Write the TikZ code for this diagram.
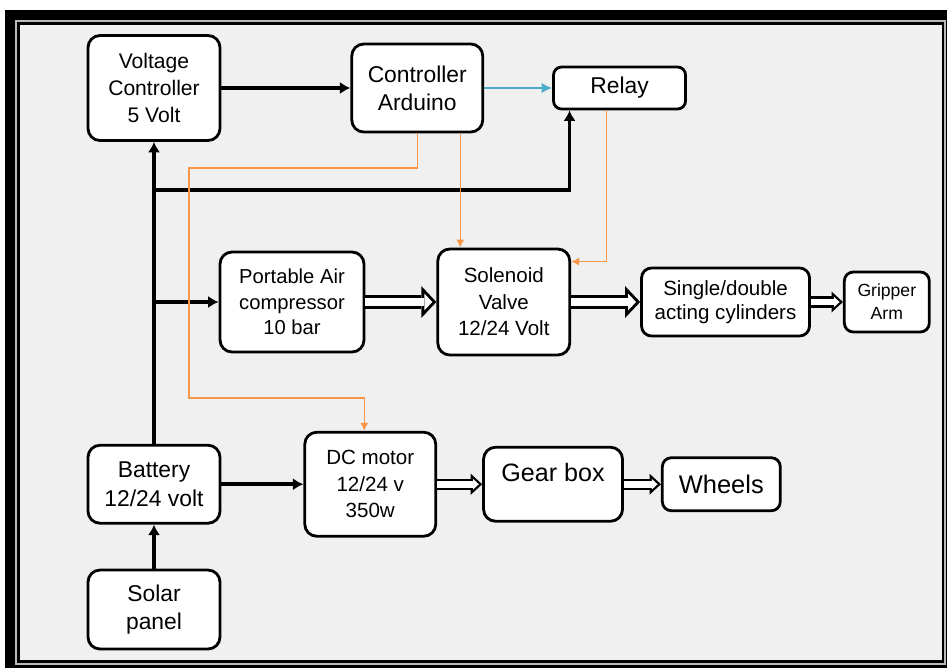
\documentclass[tikz,border=0pt]{standalone}
\usepackage{fontspec}
\setmainfont{Liberation Sans}
\usepackage{tikz}
\usetikzlibrary{positioning,arrows.meta}
\definecolor{bggray}{HTML}{F0F0F0}
\definecolor{ctlorange}{HTML}{F79646}
\definecolor{sigblue}{HTML}{4BACC6}

\begin{document}
\begin{tikzpicture}[x=0.02cm, y=-0.02cm,
	blk/.style={draw, line width=1.6pt, fill=white, rounded corners=0.24cm, align=center, inner sep=0pt, font=\fontsize{12}{15.5}\selectfont},
	pw/.style={line width=2pt, -{Latex[length=6pt,width=7pt]}},
	sig/.style={draw=sigblue, line width=1.6pt, -{Latex[length=6pt,width=6pt]}},
	ctl/.style={draw=ctlorange, line width=0.8pt, -{Latex[length=4.5pt,width=4.5pt]}},
	hollow/.style={line width=8.5pt, -{Triangle[length=8.5pt,width=18pt,line width=0pt]},
		postaction={draw=white, line width=5.1pt, shorten >=2.34pt, -{Triangle[length=4.46pt,width=9.45pt,line width=0pt]}}},
	hollowsm/.style={line width=6.5pt, -{Triangle[length=6.5pt,width=12pt,line width=0pt]},
		postaction={draw=white, line width=3.9pt, shorten >=1.92pt, -{Triangle[length=3.28pt,width=6.06pt,line width=0pt]}}}]

	% frame
	\useasboundingbox (0,0) rectangle (947,670);
	\fill[black] (5,10) rectangle (947,668);
	\fill[gray!55] (15,20) rectangle (946,665);
	\fill[black] (17,22) rectangle (944,663);
	\fill[bggray] (20,25) rectangle (942,660);

	% blocks
	\node[blk, minimum width=2.64cm, minimum height=2.1cm] (vc) at (154,88) {Voltage\\Controller\\5 Volt};
	\node[blk, minimum width=2.62cm, minimum height=1.76cm, font=\fontsize{13}{16}\selectfont, right=2.58cm of vc] (ard) {Controller\\Arduino};
	\node[blk, rounded corners=0.16cm, minimum width=2.64cm, minimum height=0.84cm, font=\fontsize{13}{16}\selectfont, right=1.36cm of ard] (relay) {Relay};
	\node[blk, minimum width=2.88cm, minimum height=2cm, font=\fontsize{11.5}{14.5}\selectfont] (comp) at (292,302) {Portable Air\\compressor\\10 bar};
	\node[blk, minimum width=2.64cm, minimum height=2.12cm, font=\fontsize{11.7}{15}\selectfont, right=1.42cm of comp] (sol) {Solenoid\\Valve\\12/24 Volt};
	\node[blk, rounded corners=0.2cm, minimum width=3.36cm, minimum height=1.36cm, font=\fontsize{11.7}{14}\selectfont, right=1.38cm of sol] (cyl) {Single/double\\acting cylinders};
	\node[blk, rounded corners=0.18cm, minimum width=1.7cm, minimum height=1.2cm, font=\fontsize{10}{13}\selectfont, right=0.64cm of cyl] (grip) {Gripper\\Arm};
	\node[blk, minimum width=2.64cm, minimum height=1.56cm, font=\fontsize{13}{16}\selectfont, below=6.04cm of vc] (bat) {Battery\\12/24 volt};
	\node[blk, minimum width=2.64cm, minimum height=1.58cm, font=\fontsize{13}{16}\selectfont, below=0.88cm of bat] (solar) {Solar\\panel};
	\node[blk, minimum width=2.62cm, minimum height=2.08cm, font=\fontsize{11.7}{15}\selectfont, right=1.64cm of bat] (dc) {DC motor\\12/24 v\\350w};
	\node[blk, minimum width=2.78cm, minimum height=1.48cm, font=\fontsize{14.3}{17}\selectfont, text height=0.37cm, text depth=0.47cm, right=0.9cm of dc] (gear) {Gear box};
	\node[blk, rounded corners=0.18cm, minimum width=2.36cm, minimum height=1.06cm, font=\fontsize{14.5}{17}\selectfont, right=0.74cm of gear] (wheel) {Wheels};

	% bus points
	\coordinate (j1) at (154,190);
	\coordinate (j2) at (154,302);
	\coordinate (o1) at (189,168);
	\coordinate (o2) at (189,398);
	\coordinate (a2) at ([xshift=0.86cm]ard.south);
	\coordinate (r2) at ([xshift=-0.26cm]relay.south);

	% power
	\draw[pw] (vc) -- (ard);
	\draw[pw] (bat) -- (vc);
	\draw[pw] (j1) -| ([xshift=-1cm]relay.south);
	\draw[pw] (j2) -- (comp);
	\draw[pw] (bat) -- (dc);
	\draw[pw] (solar) -- (bat);
	\draw[sig] (ard) -- (relay);

	% air and drive
	\draw[hollow] (comp) -- (sol);
	\draw[hollow] (sol) -- (cyl);
	\draw[hollowsm] (cyl) -- (grip);
	\draw[hollowsm] (dc) -- (gear);
	\draw[hollowsm] (gear) -- (wheel);

	% control
	\draw[ctl] (ard.south) |- (o1) -- (o2) -| ([xshift=-0.12cm]dc.north);
	\draw[ctl] (a2) -- (a2 |- sol.north);
	\draw[ctl] (r2) |- ([yshift=-0.28cm]sol.north east);
\end{tikzpicture}
\end{document}
